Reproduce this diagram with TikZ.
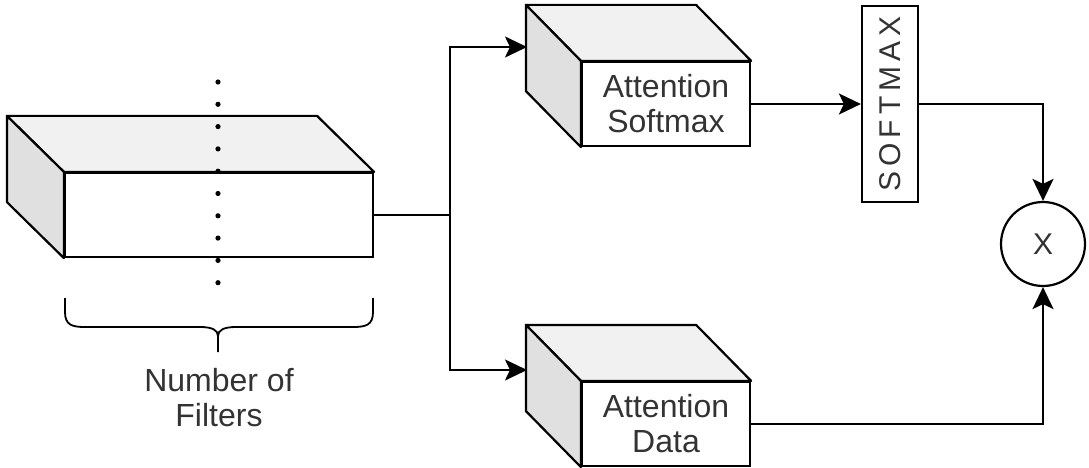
\documentclass[tikz,border=0pt]{standalone}
\usepackage{fontspec}
\setmainfont{Liberation Sans}
\usetikzlibrary{arrows.meta,calc}
\definecolor{topface}{HTML}{F1F1F1}
\definecolor{sideface}{HTML}{E0E0E0}
\definecolor{txt}{HTML}{333333}
\tikzset{
  edge/.style={draw=black, line width=2.2pt},
  arr/.style={edge, -{Stealth[length=22pt,width=21pt,inset=5pt]}},
  facebox/.style={draw=black, line width=2.2pt, fill=white, inner sep=0pt,
    text=txt, font=\fontsize{32}{35}\selectfont, align=center},
  lbl/.style={text=txt, font=\fontsize{32}{35}\selectfont, align=center},
  cubeedge/.style={draw=black, line width=2.2pt, line join=round},
}
% top and left faces of a box whose front face is node #1, receding by (#2,#3)
\newcommand\boxdepth[3]{%
  \filldraw[cubeedge, fill=topface] (#1.north west) -- ++(-#2,-#3)
     -- ($(#1.north east)+(-#2,-#3)$) -- (#1.north east) -- cycle;
  \filldraw[cubeedge, fill=sideface] (#1.north west) -- ++(-#2,-#3)
     -- ($(#1.south west)+(-#2,-#3)$) -- (#1.south west) -- cycle;
}
\begin{document}
\begin{tikzpicture}[x=1pt, y=-1pt]
\useasboundingbox (0,0) rectangle (1089,468);

% input block
\node[facebox, minimum width=308pt, minimum height=84pt] (feat) at (219,215) {};
\boxdepth{feat}{57}{56}
\foreach \i in {0,...,9} \fill (218,{82+22.3*\i}) circle (2.6pt);

% brace under the input block
\draw[line width=1.8pt] (65,298) -- (65,312) .. controls (65,325) and (72,327) .. (85,327)
  -- (200,327) .. controls (212,327) and (218,330) .. (218,336) -- (218,352);
\draw[line width=1.8pt] (373,298) -- (373,312) .. controls (373,325) and (366,327) .. (353,327)
  -- (236,327) .. controls (224,327) and (218,330) .. (218,336);
\node[lbl] (nf) at (219,398) {Number of\\Filters};

% attention blocks
\node[facebox, minimum width=168pt, minimum height=84pt] (asm) at (666,104) {Attention\\Softmax};
\boxdepth{asm}{55}{56}
\node[facebox, minimum width=168pt, minimum height=84pt] (adt) at (666,424) {Attention\\Data};
\boxdepth{adt}{55}{56}

% softmax and product
\node[facebox, minimum width=56pt, minimum height=196pt] (smax) at (890,104) {};
\node[lbl, rotate=90, font=\fontsize{30}{34}\selectfont] at (smax.center) {S\,O\,F\,T\,M\,A\,X};
\node[draw=black, line width=2.2pt, circle, minimum size=84pt, inner sep=0pt,
  text=txt, font=\fontsize{30}{34}\selectfont] (mul) at (1043,244) {X};

% connectors
\coordinate (split) at (450,215);
\coordinate (asmin) at (527,47);
\coordinate (adtin) at (527,370);
\draw[edge] (feat.east) -- (split);
\draw[arr] (split) |- (asmin);
\draw[arr] (split) |- (adtin);
\draw[arr] (asm.east) -- (smax.west);
\draw[arr] (smax.east) -| (mul.north);
\draw[arr] (adt.east) -| (mul.south);
\end{tikzpicture}
\end{document}
